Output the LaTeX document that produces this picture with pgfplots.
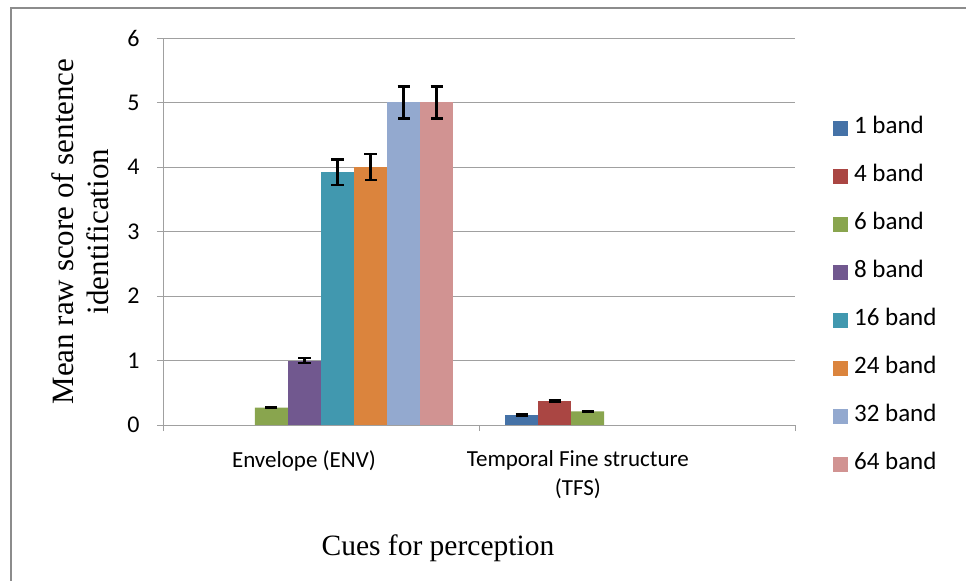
\documentclass[border=0pt]{standalone}
\usepackage{pgfplots}
\pgfplotsset{compat=1.18}
\usepackage{fontspec}
\setmainfont{Carlito}
\newfontfamily\tnr{Liberation Serif}
\definecolor{c1}{HTML}{4572A7}
\definecolor{c4}{HTML}{AA4643}
\definecolor{c6}{HTML}{89A54E}
\definecolor{c8}{HTML}{71588F}
\definecolor{c16}{HTML}{4198AF}
\definecolor{c24}{HTML}{DB843D}
\definecolor{c32}{HTML}{93A9CF}
\definecolor{c64}{HTML}{D19392}
\definecolor{gridc}{HTML}{A0A0A0}
\begin{document}
\begin{tikzpicture}
\path[use as bounding box] (-163bp,-156bp) rectangle (803bp,425bp);
\draw[color={rgb,255:red,140;green,140;blue,140}, line width=2.5bp] (-152bp,-157bp) -- (-152bp,417bp) -- (804bp,417bp);
\begin{axis}[
  at={(0,0)}, anchor=south west,
  scale only axis, width=632bp, height=387bp,
  xmin=-0.5, xmax=1.5, ymin=0, ymax=6,
  ybar=0pt, bar width=33bp,
  axis x line*=bottom, axis y line*=left,
  axis line style={gridc, line width=0.8bp},
  tick style={gridc, line width=0.8bp},
  tick align=outside, major tick length=6bp,
  xtick={-0.5,0.5,1.5}, xticklabels={},
  ytick={0,1,2,3,4,5,6},
  ymajorgrids, grid style={gridc, line width=0.8bp},
  /pgf/number format/assume math mode=true,
  tick label style={font=\fontsize{24bp}{28bp}\selectfont},
  yticklabel style={xshift=-14bp},
  extra x ticks={-0.054,0.813},
  extra x tick labels={Envelope (ENV),{Temporal Fine structure\\(TFS)}},
  extra x tick style={major tick length=0pt, tick label style={align=center, yshift=-22bp, font=\fontsize{23bp}{29bp}\selectfont}},
  xlabel={Cues for perception},
  xlabel style={font=\tnr\fontsize{29.5bp}{34bp}\selectfont, at={(axis description cs:0.435,-0.318)}, anchor=center},
  ylabel={Mean raw score of sentence\\identification},
  ylabel style={font=\tnr\fontsize{31bp}{35bp}\selectfont, align=center, at={(axis description cs:-0.131,0.5)}, anchor=center},
  error bars/y dir=both, error bars/y explicit,
  error bars/error bar style={black, line width=2.5bp},
  error bars/error mark options={black, rotate=90, mark size=6bp, line width=2.5bp},
  legend style={at={(axis description cs:1.0553,0.333)}, anchor=west, draw=none, fill=none,
    font=\fontsize{25bp}{29bp}\selectfont, row sep=28bp,
    nodes={inner ysep=0pt, inner xsep=6bp, text height=15bp, text depth=5bp}},
  legend cell align=left,
  legend image code/.code={\fill[#1,draw=none] (0bp,-7.5bp) rectangle (15bp,7.5bp);},
]
\addplot[fill=c1, draw=none] coordinates {(1,0.16) +- (0,0.01)};
\addplot[fill=c4, draw=none] coordinates {(1,0.37) +- (0,0.015)};
\addplot[fill=c6, draw=none] coordinates {(0,0.27) +- (0,0.01) (1,0.21) +- (0,0.01)};
\addplot[fill=c8, draw=none] coordinates {(0,1.0) +- (0,0.04)};
\addplot[fill=c16, draw=none] coordinates {(0,3.92) +- (0,0.2)};
\addplot[fill=c24, draw=none] coordinates {(0,4.0) +- (0,0.2)};
\addplot[fill=c32, draw=none] coordinates {(0,5.0) +- (0,0.25)};
\addplot[fill=c64, draw=none] coordinates {(0,5.0) +- (0,0.25)};
\legend{1 band,4 band,6 band,8 band,16 band,24 band,32 band,64 band}
\end{axis}
\end{tikzpicture}
\end{document}
